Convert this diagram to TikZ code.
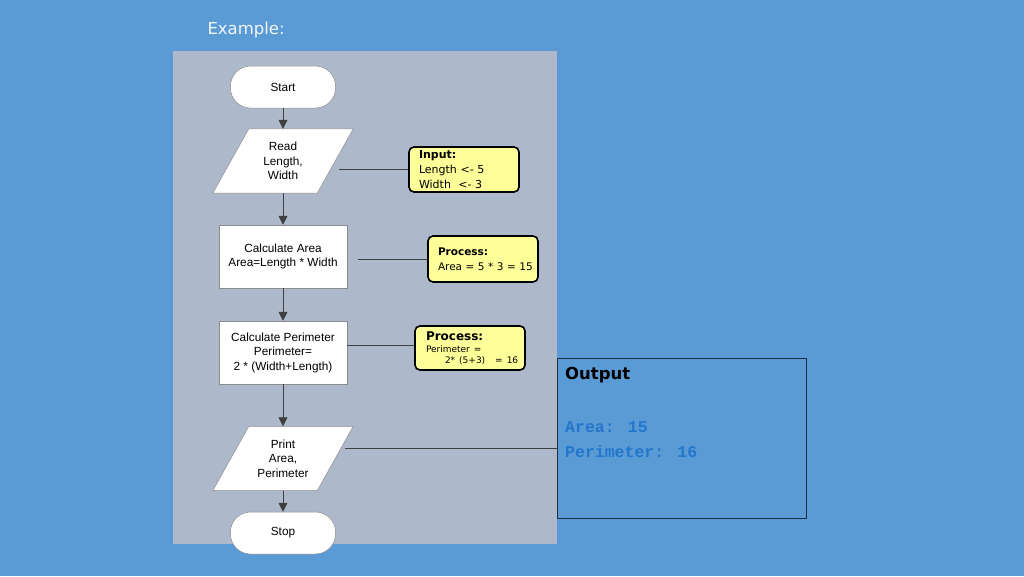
\documentclass[tikz,border=0pt]{standalone}
\usepackage{fontspec}
\setmainfont{Liberation Sans}
\newfontfamily\verd{DejaVu Sans}
\newfontfamily\cour{Liberation Mono}
\usetikzlibrary{arrows.meta,calc}
\definecolor{bgblue}{HTML}{5B9BD5}
\definecolor{panelgray}{HTML}{ADB9CA}
\definecolor{noteyellow}{HTML}{FFFF99}
\definecolor{monoblue}{HTML}{2277CC}
\definecolor{linegray}{HTML}{404040}
\definecolor{outborder}{HTML}{1F2F40}
\begin{document}
\begin{tikzpicture}[x=1pt,y=-1pt,
  flowbox/.style={draw=black!45, fill=white, line width=0.5pt, align=center,
    font=\fontsize{11.8}{14.5}\selectfont, inner sep=0pt},
  term/.style={flowbox, rounded corners=20pt, minimum width=105pt, minimum height=42pt},
  procbox/.style={flowbox, minimum width=128pt, minimum height=63pt},
  iobox/.style={align=center, font=\fontsize{11.8}{14.5}\selectfont, inner sep=0pt,
    minimum width=140pt, minimum height=64pt},
  iopoly/.style={draw=black!45, fill=white, line width=0.5pt},
  flowarrow/.style={draw=linegray, line width=0.8pt, -{Triangle[length=9pt,width=9pt]}},
  sideline/.style={draw=linegray, line width=0.9pt},
  note/.style={draw=black, fill=noteyellow, line width=1.6pt, rounded corners=5pt,
    align=left, inner xsep=0pt, inner ysep=0pt, text width=108pt, minimum width=110pt,
    font=\verd\fontsize{11}{15}\selectfont}
]
\useasboundingbox (0,0) rectangle (1024,576);
\fill[bgblue] (0,0) rectangle (1024,576);
\node[font=\verd\fontsize{16.5}{20}\selectfont, text=white!92!bgblue, anchor=west] (title) at (204,30) {Example:};
\fill[panelgray] (173,51) rectangle (557,544);

% flow nodes
\node[term] (start) at (283,87) {Start};
\node[iobox] (read) at (283,161) {};
\filldraw[iopoly] (read.south west) -- ($(read.south east)+(-36,0)$) -- (read.north east) -- ($(read.north west)+(36,0)$) -- cycle;
\node[iobox] at (read) {Read\\Length,\\Width};
\node[procbox] (area) at (283,256.5) {Calculate Area\\Area=Length * Width};
\node[procbox] (perim) at (283,352.5) {Calculate Perimeter\\Perimeter=\\2 * (Width+Length)};
\node[iobox] (print) at (283,458.5) {};
\filldraw[iopoly] (print.south west) -- ($(print.south east)+(-36,0)$) -- (print.north east) -- ($(print.north west)+(36,0)$) -- cycle;
\node[iobox] at (print) {Print\\Area,\\Perimeter};
\node[term] (stop) at (283,533) {Stop};

% flow arrows
\draw[flowarrow] (start) -- (read);
\draw[flowarrow] (read) -- (area);
\draw[flowarrow] (area) -- (perim);
\draw[flowarrow] (perim) -- (print);
\draw[flowarrow] (print) -- (stop);

% notes
\node[note, minimum height=45pt] (input) at (464,169.5)
  {\hspace*{9pt}\textbf{Input:}\\\hspace*{9pt}Length <- 5\\\hspace*{9pt}Width\ \ <- 3};
\node[note, minimum height=46pt, font=\verd\fontsize{10.5}{15}\selectfont] (proc1) at (483,259)
  {\hspace*{9pt}\textbf{Process:}\\\hspace*{9pt}Area = 5 * 3 = 15};
\node[note, minimum height=44pt, font=\verd\fontsize{12}{13}\selectfont] (proc2) at (470,348)
  {\hspace*{10pt}\textbf{Process:}\\[-1pt]\hspace*{10pt}{\fontsize{9}{11}\selectfont Perimeter =}\\[-2pt]\hspace*{10pt}{\fontsize{9}{11}\selectfont\hspace*{19pt}2* (5+3)\hspace*{10pt}= 16}};

% output box
\node[draw=outborder, fill=bgblue, line width=0.8pt, minimum width=249pt, minimum height=160pt, inner sep=0pt] (out) at (681.5,438) {};
\node[anchor=west, inner sep=0pt, font=\verd\bfseries\fontsize{16.5}{20}\selectfont] (outtitle) at (565,375) {Output};
\node[anchor=west, inner sep=0pt, text=monoblue, font=\cour\bfseries\fontsize{16.5}{20}\selectfont] (outarea) at (565,427) {Area: 15};
\node[anchor=west, inner sep=0pt, text=monoblue, font=\cour\bfseries\fontsize{16.5}{20}\selectfont] (outper) at (565,452) {Perimeter: 16};

% side connectors
\draw[sideline] ([xshift=-14pt]read.east |- input.west) -- (input.west);
\draw[sideline] ([xshift=11pt]area.east |- proc1.west) -- (proc1.west);
\draw[sideline] (perim.east |- 0,345) -- (proc2.west |- 0,345);
\draw[sideline] ([xshift=-8pt]print.east |- 0,448) -- (out.west |- 0,448);
\end{tikzpicture}
\end{document}
